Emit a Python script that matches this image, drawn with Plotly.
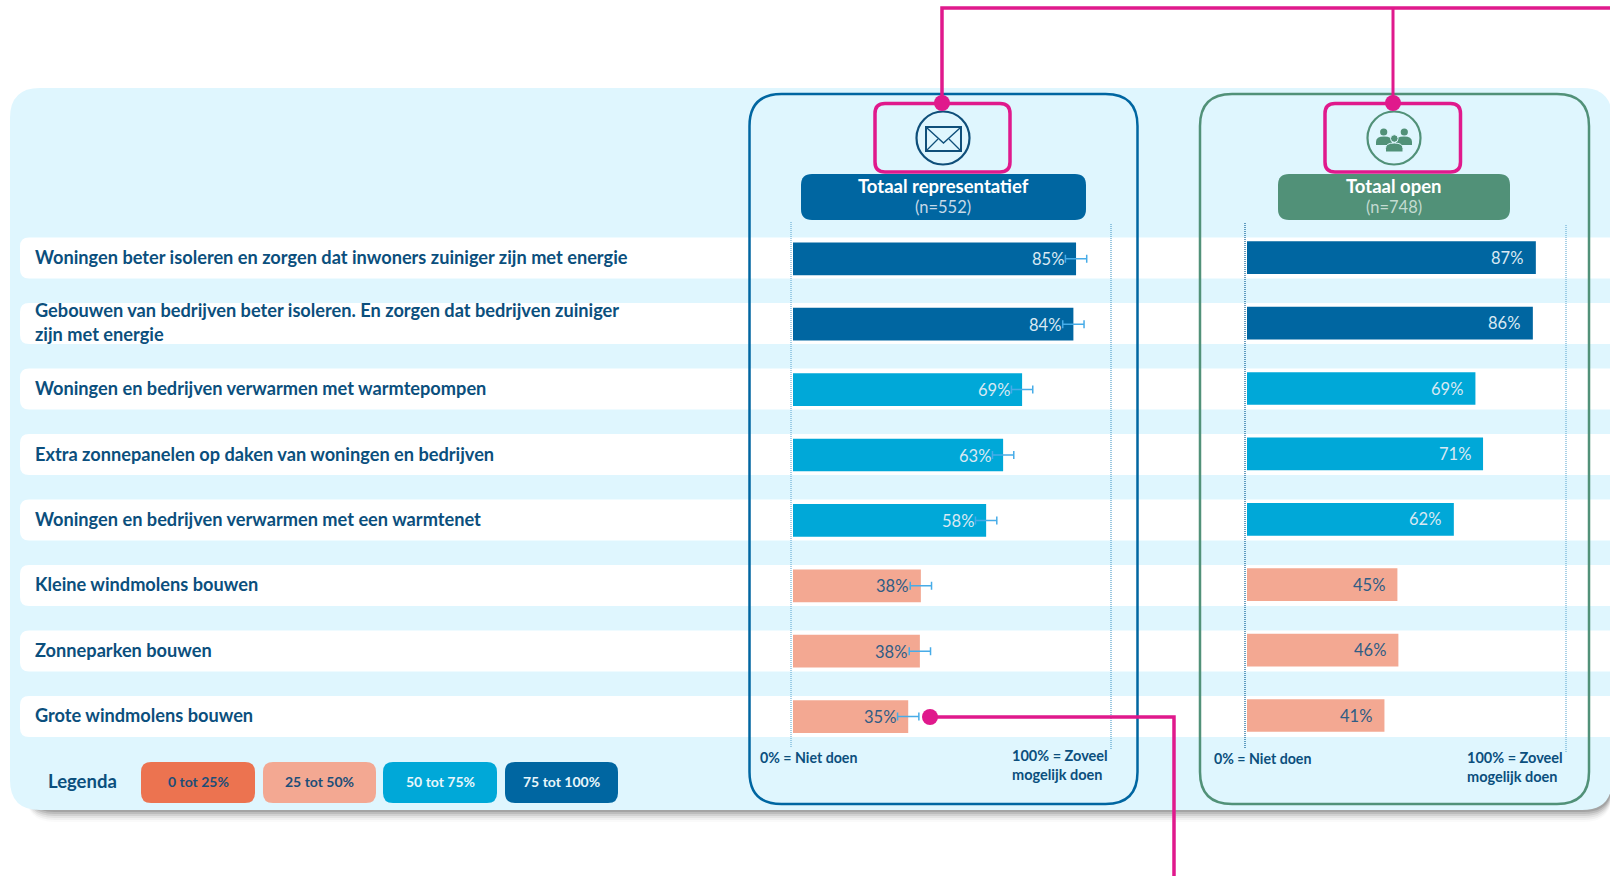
import plotly.graph_objects as go

W, H = 1610, 876

categories = [
    "Woningen beter isoleren en zorgen dat inwoners zuiniger zijn met energie",
    "Gebouwen van bedrijven beter isoleren. En zorgen dat bedrijven zuiniger<br>zijn met energie",
    "Woningen en bedrijven verwarmen met warmtepompen",
    "Extra zonnepanelen op daken van woningen en bedrijven",
    "Woningen en bedrijven verwarmen met een warmtenet",
    "Kleine windmolens bouwen",
    "Zonneparken bouwen",
    "Grote windmolens bouwen",
]
rep_values = [85.0, 84.2, 68.8, 63.1, 58.0, 38.4, 38.1, 34.6]
rep_labels = ["85%", "84%", "69%", "63%", "58%", "38%", "38%", "35%"]
rep_error = [3.2, 3.2, 3.2, 3.2, 3.2, 3.2, 3.2, 3.2]
open_values = [87.0, 86.1, 68.8, 71.1, 62.3, 45.3, 45.6, 41.4]
open_labels = ["87%", "86%", "69%", "71%", "62%", "45%", "46%", "41%"]
legend_labels = ["0 tot 25%", "25 tot 50%", "50 tot 75%", "75 tot 100%"]
legend_colors = ["#EC7350", "#F3A892", "#00A8D8", "#0066A1"]
legend_text = ["#1C4E78", "#1C4E78", "#E8F6FB", "#E8F6FB"]

BG = "#DFF6FE"
NAVY = "#0B4F7D"
PINK = "#E0198C"
GREEN = "#519178"
FONT = "Lato"


def fx(x):
    return x / W


def fy(y):
    return 1 - y / H


def rr(x0, y0, x1, y1, r):
    p = lambda x, y: f"{fx(x):.5f},{fy(y):.5f}"
    return (f"M{p(x0+r,y0)} L{p(x1-r,y0)} Q{p(x1,y0)} {p(x1,y0+r)} L{p(x1,y1-r)} Q{p(x1,y1)} {p(x1-r,y1)} "
            f"L{p(x0+r,y1)} Q{p(x0,y1)} {p(x0,y1-r)} L{p(x0,y0+r)} Q{p(x0,y0)} {p(x0+r,y0)} Z")


def dome(x0, x1, top, bottom):
    p = lambda x, y: f"{fx(x):.5f},{fy(y):.5f}"
    xc, ym = (x0 + x1) / 2, (top + bottom) / 2 + 1
    return (f"M{p(x0,bottom)} L{p(x0,ym)} Q{p(x0,top)} {p(xc,top)} Q{p(x1,top)} {p(x1,ym)} "
            f"L{p(x1,bottom)} Z")


def poly(pts, close=False):
    s = "M" + " L".join(f"{fx(x):.5f},{fy(y):.5f}" for x, y in pts)
    return s + (" Z" if close else "")


shapes = []
ann = []


def path(d, fill=None, line=None, lw=0, layer="below", opacity=1):
    shapes.append(dict(type="path", path=d, xref="paper", yref="paper", layer=layer, opacity=opacity,
                       fillcolor=fill if fill else "rgba(0,0,0,0)",
                       line=dict(color=line if line else "rgba(0,0,0,0)", width=lw)))


def circle(cx, cy, r, fill=None, line=None, lw=0, layer="above"):
    shapes.append(dict(type="circle", xref="paper", yref="paper", layer=layer,
                       x0=fx(cx-r), x1=fx(cx+r), y0=fy(cy+r), y1=fy(cy-r),
                       fillcolor=fill if fill else "rgba(0,0,0,0)",
                       line=dict(color=line if line else "rgba(0,0,0,0)", width=lw)))


def text(x, y, s, size=15, color=NAVY, bold=True, anchor="left", family=FONT):
    t = f"<b>{s}</b>" if bold else s
    ann.append(dict(x=fx(x), y=fy(y), xref="paper", yref="paper", text=t, showarrow=False,
                    xanchor=anchor, yanchor="middle", align=anchor,
                    font=dict(size=size, color=color, family=family)))


def vline(x, y0, y1, color):
    shapes.append(dict(type="line", xref="paper", yref="paper", layer="below", x0=fx(x), x1=fx(x),
                       y0=fy(y0), y1=fy(y1), line=dict(color=color, width=1.2, dash="1px,1px")))


# shadow + panel
for k, op in zip(range(1, 7), [0.12, 0.10, 0.08, 0.05, 0.04, 0.02]):
    path(rr(26, 500, 1612, 810 + k * 2, 28), fill="#000000", opacity=op)
path(rr(10, 88, 1612, 810, 30), fill=BG)

# white rows
for i in range(8):
    top = 237.5 + 65.5 * i
    path(rr(20, top, 1640, top + 41, 9), fill="#FFFFFF")

# axis guides
vline(791, 222, 748, "#6FB1D6")
vline(1111, 224, 750, "#5AA3CC")
vline(1245, 223, 749, "#0B5F96")
vline(1566, 225, 752, "#6FB1D6")

# column outlines
path(rr(749.5, 94, 1137.5, 804, 32), line="#0066A1", lw=2.5, layer="above")
path(rr(1200, 94, 1589, 804, 32), line=GREEN, lw=2.5, layer="above")

# headers
path(rr(801, 174, 1086, 220, 11), fill="#0066A1", layer="above")
path(rr(1278, 174, 1510, 220, 11), fill=GREEN, layer="above")
text(943, 186, "Totaal representatief", size=18.5, color="#FFFFFF", anchor="center")
text(943, 207.5, "(n=552)", size=16.5, color="#C6DAE8", bold=False, anchor="center")
text(1394, 186, "Totaal open", size=18.5, color="#FFFFFF", anchor="center")
text(1394, 207.5, "(n=748)", size=16.5, color="#C3DBD1", bold=False, anchor="center")

# envelope icon
circle(943, 138, 26.5, line="#0F4F7A", lw=2.2)
path(poly([(926, 127), (961, 127), (961, 151), (926, 151)], True), line="#0F4F7A", lw=2, layer="above")
path(poly([(927, 128), (943.5, 143), (960, 128)]), line="#0F4F7A", lw=1.4, layer="above")
path(poly([(927, 150), (938, 139)]), line="#0F4F7A", lw=1.2, layer="above")
path(poly([(960, 150), (949, 139)]), line="#0F4F7A", lw=1.2, layer="above")

# people icon
circle(1394, 138, 26.5, line=GREEN, lw=2.2)
for cx, x0, x1 in [(1383.7, 1376, 1392), (1404.3, 1396, 1412)]:
    circle(cx, 132, 3.6, fill=GREEN)
    path(dome(x0, x1, 136.5, 145), fill=GREEN, layer="above")
circle(1394.3, 138.5, 3.8, fill=GREEN, line=BG, lw=1)
path(dome(1385.5, 1403, 143, 152), fill=GREEN, line=BG, lw=1, layer="above")

# pink callouts
for d in [
    rr(875, 103.5, 1010, 172, 10), rr(1325, 103.5, 1460.5, 172, 10),
]:
    path(d, line=PINK, lw=3.5, layer="above")
path(poly([(942, 103), (942, 8), (1612, 8)]), line=PINK, lw=3.5, layer="above")
path(poly([(1393, 8), (1393, 103)]), line=PINK, lw=3, layer="above")
circle(942, 103, 8, fill=PINK)
circle(1393, 103, 8, fill=PINK)
path(poly([(930, 717), (1174, 717), (1174, 880)]), line=PINK, lw=3.5, layer="above")
circle(930, 717, 8, fill=PINK)

# legend
text(46, 781, "Legenda", size=18.5)
for (x0, x1), lab, col, tc in zip([(141, 255), (263, 376), (383, 497), (505, 618)],
                                  legend_labels, legend_colors, legend_text):
    path(rr(x0, 762, x1, 803, 10), fill=col)
    text((x0 + x1) / 2, 781.5, lab, size=14, color=tc, anchor="center")

# axis end notes
text(758, 757, "0% = Niet doen", size=14.2)
text(1010, 765, "100% = Zoveel<br>mogelijk doen", size=14.5)
text(1212, 758.5, "0% = Niet doen", size=14.2)
text(1465, 767, "100% = Zoveel<br>mogelijk doen", size=14.5)


def bar_color(v):
    for limit, c in zip([25, 50, 75, 101], legend_colors):
        if v < limit:
            return c


def label_color(v):
    return "#D9E9F3" if v >= 50 else "#2F5D85"


fig = go.Figure()
fig.add_trace(go.Bar(x=rep_values, y=list(range(8)), orientation="h", width=0.5,
                     marker=dict(color=[bar_color(v) for v in rep_values], line=dict(width=0)),
                     error_x=dict(type="data", array=rep_error, color="#47ACE8", thickness=1.5, width=4),
                     xaxis="x", yaxis="y", hoverinfo="skip"))
fig.add_trace(go.Bar(x=open_values, y=list(range(8)), orientation="h", width=0.5,
                     marker=dict(color=[bar_color(v) for v in open_values], line=dict(width=0)),
                     xaxis="x2", yaxis="y2", hoverinfo="skip"))

for i, (v, l) in enumerate(zip(rep_values, rep_labels)):
    ann.append(dict(x=v, y=i, xref="x", yref="y", text=l, showarrow=False, xanchor="right", xshift=-10.5,
                    yshift=-0.5, font=dict(size=16.5, color=label_color(v), family=FONT)))
for i, (v, l) in enumerate(zip(open_values, open_labels)):
    ann.append(dict(x=v, y=i, xref="x2", yref="y2", text=l, showarrow=False, xanchor="right", xshift=-10.5,
                    font=dict(size=16.5, color=label_color(v), family=FONT)))
for i, c in enumerate(categories):
    ann.append(dict(x=fx(33), y=i, xref="paper", yref="y", text=f"<b>{c}</b>", showarrow=False,
                    xanchor="left", align="left", yshift=1.5 if i != 1 else 2,
                    font=dict(size=18.2, color=NAVY, family=FONT)))

SPACING = 65.4
def ydomain(first_center):
    top = first_center - SPACING / 2
    bottom = first_center + 7.5 * SPACING
    return [fy(bottom), fy(top)]


hidden = dict(visible=False, fixedrange=True)
fig.update_layout(
    width=W, height=H, margin=dict(l=0, r=0, t=0, b=0), autosize=False,
    paper_bgcolor="#FFFFFF", plot_bgcolor="rgba(0,0,0,0)", showlegend=False, barmode="overlay",
    xaxis=dict(domain=[fx(793), fx(793 + 333)], range=[0, 100], **hidden),
    xaxis2=dict(domain=[fx(1247), fx(1247 + 332)], range=[0, 100], anchor="y2", **hidden),
    yaxis=dict(domain=ydomain(258.8), range=[7.5, -0.5], anchor="x", **hidden),
    yaxis2=dict(domain=ydomain(257.7), range=[7.5, -0.5], anchor="x2", **hidden),
    shapes=shapes, annotations=ann,
)
fig.write_html("out.html", config={"displayModeBar": False},
               post_script="document.body.style.margin='0';document.body.style.overflow='hidden';")
